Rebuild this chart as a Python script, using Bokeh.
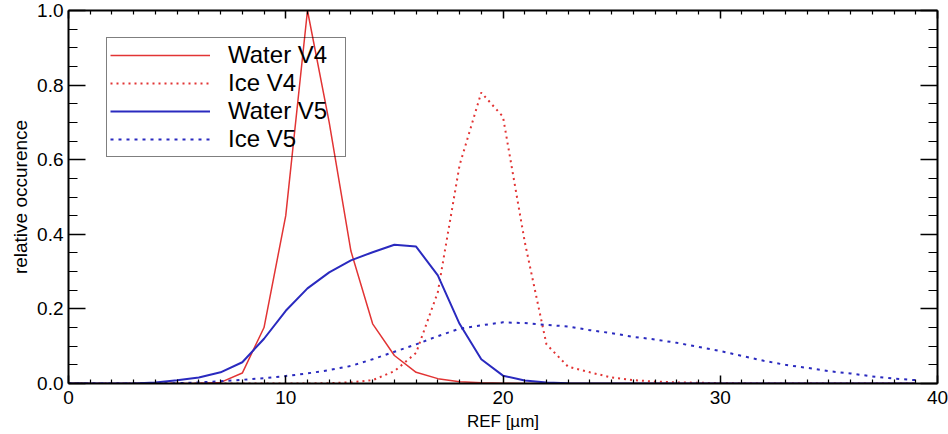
from bokeh.plotting import figure
from bokeh.models import (LinearAxis, FixedTicker, Range1d, Legend, LegendItem)
from bokeh.embed import file_html
from bokeh.resources import INLINE

# Effective radius bins (µm)
ref_bins = list(range(40))

# Relative occurrence per bin
water_v4 = [0, 0, 0, 0, 0, 0, 0.001, 0.003, 0.028, 0.15,
            0.45, 1.0, 0.70, 0.355, 0.16, 0.075, 0.03, 0.013, 0.005, 0.002,
            0.001, 0, 0, 0, 0, 0, 0, 0, 0, 0,
            0, 0, 0, 0, 0, 0, 0, 0, 0, 0]
ice_v4 = [0, 0, 0, 0, 0, 0, 0, 0, 0, 0,
          0, 0, 0.001, 0.003, 0.009, 0.033, 0.082, 0.245, 0.585, 0.78,
          0.715, 0.38, 0.105, 0.045, 0.03, 0.016, 0.009, 0.005, 0.003, 0.002,
          0.001, 0, 0, 0, 0, 0, 0, 0, 0, 0]
water_v5 = [0, 0, 0, 0, 0.003, 0.009, 0.016, 0.03, 0.057, 0.12,
            0.195, 0.255, 0.298, 0.33, 0.352, 0.372, 0.367, 0.29, 0.16, 0.065,
            0.021, 0.008, 0.003, 0.001, 0, 0, 0, 0, 0, 0,
            0, 0, 0, 0, 0, 0, 0, 0, 0, 0]
ice_v5 = [0, 0, 0, 0, 0, 0.001, 0.003, 0.006, 0.01, 0.014,
          0.02, 0.027, 0.036, 0.047, 0.065, 0.085, 0.105, 0.127, 0.147, 0.156,
          0.164, 0.162, 0.157, 0.153, 0.143, 0.135, 0.125, 0.118, 0.109, 0.098,
          0.087, 0.074, 0.061, 0.05, 0.042, 0.033, 0.027, 0.019, 0.013, 0.009]

x_ticks = [0, 10, 20, 30, 40]
x_tick_labels = ["0", "10", "20", "30", "40"]
y_ticks = [0.0, 0.2, 0.4, 0.6, 0.8, 1.0]
y_tick_labels = ["0.0", "0.2", "0.4", "0.6", "0.8", "1.0"]

RED = "#e23434"
BLUE = "#2a2abf"
FONT = "Liberation Sans"

p = figure(width=948, height=434, output_backend="svg", toolbar_location=None,
           x_range=Range1d(0, 40), y_range=Range1d(0, 1.0),
           x_axis_location=None, y_axis_location=None,
           min_border_left=68, min_border_right=11,
           min_border_top=10, min_border_bottom=51,
           frame_width=869, frame_height=373)
p.outline_line_color = None
p.grid.visible = False
p.background_fill_color = "white"
p.border_fill_color = "white"

x_minor = [v for v in range(0, 41) if v % 10 != 0]
y_minor = [round(0.05 * k, 2) for k in range(21) if k % 4 != 0]


def make_axis(kind, labelled):
    if kind == "x":
        ticker = FixedTicker(ticks=x_ticks, minor_ticks=x_minor)
        ax = LinearAxis(ticker=ticker)
        ax.major_tick_in, ax.minor_tick_in = 8, 4
        if labelled:
            ax.major_label_overrides = dict(zip(x_ticks, x_tick_labels))
    else:
        ticker = FixedTicker(ticks=y_ticks, minor_ticks=y_minor)
        ax = LinearAxis(ticker=ticker)
        ax.major_tick_in, ax.minor_tick_in = 17, 9
        if labelled:
            ax.major_label_overrides = dict(zip(y_ticks, y_tick_labels))
    ax.major_tick_out = 0
    ax.minor_tick_out = 0
    ax.axis_line_color = "black"
    ax.axis_line_width = 2
    ax.major_tick_line_color = "black"
    ax.major_tick_line_width = 1.5
    ax.minor_tick_line_color = "black"
    ax.minor_tick_line_width = 1.2
    ax.major_label_text_font = FONT
    ax.major_label_text_font_size = "19px"
    ax.major_label_text_color = "black"
    ax.axis_label_text_font = FONT
    ax.axis_label_text_font_style = "normal"
    ax.axis_label_text_color = "black"
    if not labelled:
        ax.major_label_text_alpha = 0
        ax.major_label_text_font_size = "0px"
    return ax


bottom = make_axis("x", True)
bottom.axis_label = "REF [µm]"
bottom.axis_label_text_font_size = "17px"
bottom.major_label_standoff = 7
bottom.axis_label_standoff = 5
left = make_axis("y", True)
left.axis_label = "relative occurence"
left.axis_label_text_font_size = "19px"
left.major_label_standoff = 5
left.axis_label_standoff = 3
top = make_axis("x", False)
right = make_axis("y", False)

p.add_layout(bottom, "below")
p.add_layout(left, "left")
p.add_layout(top, "above")
p.add_layout(right, "right")

r_wv4 = p.line(ref_bins, water_v4, line_color=RED, line_width=1.5)
r_iv4 = p.line(ref_bins, ice_v4, line_color=RED, line_width=2, line_dash="2 4")
r_wv5 = p.line(ref_bins, water_v5, line_color=BLUE, line_width=2)
r_iv5 = p.line(ref_bins, ice_v5, line_color=BLUE, line_width=2, line_dash="3 5")

legend = Legend(items=[
    LegendItem(label="Water V4", renderers=[r_wv4]),
    LegendItem(label="Ice V4", renderers=[r_iv4]),
    LegendItem(label="Water V5", renderers=[r_wv5]),
    LegendItem(label="Ice V5", renderers=[r_iv5]),
], location=(38, 226))
legend.padding = 3
legend.spacing = 0
legend.margin = 0
legend.glyph_width = 100
legend.glyph_height = 24
legend.label_height = 24
legend.label_width = 114
legend.label_standoff = 18
legend.label_text_font = FONT
legend.label_text_font_size = "24px"
legend.label_text_color = "black"
legend.border_line_color = "black"
legend.border_line_width = 1.5
legend.background_fill_alpha = 0
p.add_layout(legend, "center")

open("out.html", "w").write(file_html(p, INLINE))
